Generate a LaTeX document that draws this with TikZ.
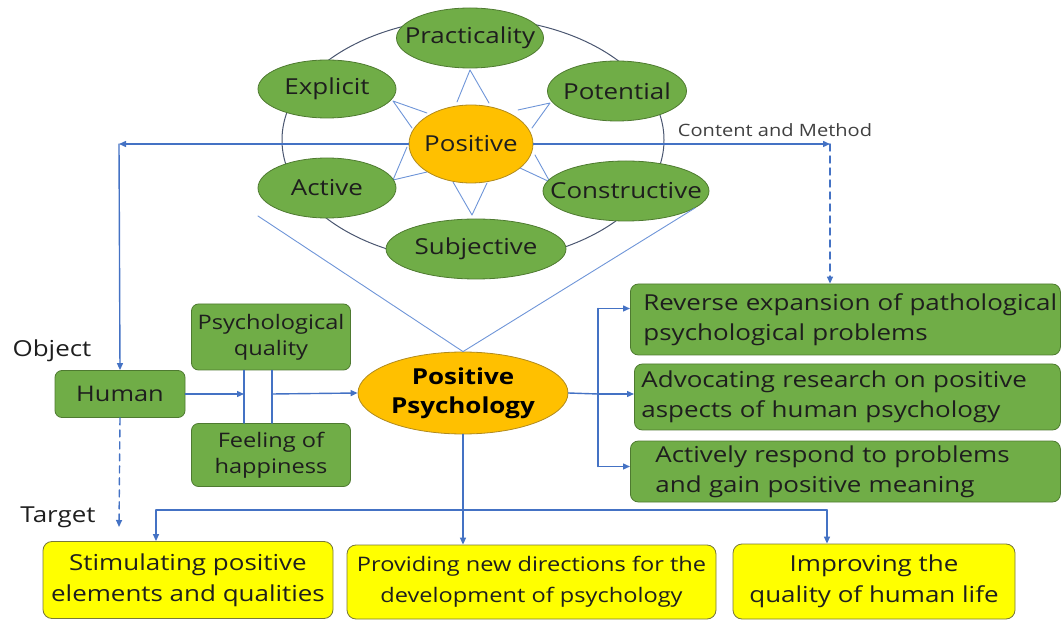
\documentclass[tikz,border=0pt]{standalone}
\usepackage{fontspec}
\setmainfont{Open Sans}[FakeStretch=1.18]
\usetikzlibrary{shapes.geometric,arrows.meta}
\definecolor{gFill}{HTML}{70AD47}
\definecolor{gEdge}{HTML}{4E7A30}
\definecolor{oFill}{HTML}{FFC000}
\definecolor{oEdge}{HTML}{B08A1E}
\definecolor{yFill}{HTML}{FFFF00}
\definecolor{yEdge}{HTML}{77773A}
\definecolor{wire}{HTML}{4472C4}
\definecolor{ray}{HTML}{6E95D8}
\definecolor{rim}{HTML}{4A5670}
\definecolor{ink}{HTML}{1E1E1E}

\tikzset{
  trait/.style={ellipse,fill=gFill,draw=gEdge,line width=0.8pt,inner xsep=-25pt,inner ysep=0pt,
                text=ink,font=\fontsize{22}{22}\selectfont},
  gbox/.style={rectangle,rounded corners=7pt,fill=gFill,draw=gEdge,line width=0.8pt,
               text=ink,align=center,font=\fontsize{20}{26}\selectfont},
  wbox/.style={rectangle,rounded corners=8pt,fill=gFill,draw=gEdge,line width=0.8pt,
               text=ink,align=left,anchor=west,font=\fontsize{22}{30}\selectfont},
  ybox/.style={rectangle,rounded corners=9pt,fill=yFill,draw=yEdge,line width=0.8pt,
               text=ink,align=center,font=\fontsize{22}{31}\selectfont},
  lbl/.style={text=ink,inner sep=0pt,font=\fontsize{22}{22}\selectfont},
  link/.style={draw=wire,line width=1.4pt,-{Triangle[length=7pt,width=6pt]}},
  bar/.style={draw=wire,line width=1.4pt},
  dashlink/.style={link,dash pattern=on 7pt off 5pt},
}

\begin{document}
\begin{tikzpicture}[x=1pt,y=-1pt,line cap=round,line join=round]
  \useasboundingbox (0,0) rectangle (1061,620);

  % ring round the six traits
  \draw[rim,line width=1pt] (473,140) ellipse [x radius=191, y radius=122];

  % star points from the centre
  \begin{scope}[draw=ray,line width=0.9pt]
    \draw (457,102) -- (470,70) -- (489,103);
    \draw (427,113) -- (393,101) -- (412,128);
    \draw (518,110) -- (550,103) -- (532,128);
    \draw (407,147) -- (393,180) -- (427,172);
    \draw (520,168) -- (550,182) -- (535,155);
    \draw (453,182) -- (472,215) -- (487,183);
  \end{scope}

  % traits
  \node[trait,minimum width=147,minimum height=60] (prc) at (470,38)  {Practicality};
  \node[trait,minimum width=138,minimum height=58] (exp) at (327,89)  {Explicit};
  \node[trait,minimum width=139,minimum height=60] (pot) at (617,91)  {Potential};
  \node[trait,minimum width=138,minimum height=60] (act) at (327,188) {Active};
  \node[trait,minimum width=166,minimum height=60] (con) at (626,191) {Constructive};
  \node[trait,minimum width=180,minimum height=60] (sub) at (476,249) {Subjective};
  \node[trait,fill=oFill,draw=oEdge,minimum width=124,minimum height=78] (pos) at (471,144) {Positive};

  % centre and side labels
  \node[ellipse,fill=oFill,draw=oEdge,line width=0.8pt,inner sep=0pt,
        minimum width=210,minimum height=82,align=center,text=black,
        font=\fontsize{22}{29}\selectfont\bfseries] (pp) at (463,393) {Positive\\Psychology};
  \node[lbl] (obj) at (52,351) {Object};
  \node[lbl] (tgt) at (58,517) {Target};
  \node[lbl,font=\fontsize{17}{17}\selectfont,text=ink!85] (cm) at (775,130) {Content and Method};

  \node[gbox,minimum width=130,minimum height=47,font=\fontsize{21.5}{26}\selectfont] (hum) at (120,394) {Human};
  \node[gbox,minimum width=159,minimum height=66] (pq) at (271,337) {Psychological\\quality};
  \node[gbox,minimum width=159,minimum height=63] (fh) at (271,455) {Feeling of\\happiness};

  \node[wbox,minimum height=71,inner xsep=13pt,text width=404] (rv1) at (630,319.5)
    {\mbox{Reverse expansion of pathological}\\psychological problems};
  \node[wbox,minimum height=66,inner xsep=7pt,text width=412] (rv2) at (634,397)
    {Advocating research on positive\\aspects of human psychology};
  \node[wbox,minimum height=61,inner xsep=25pt,text width=380] (rv3) at (630,471.5)
    {Actively respond to problems\\and gain positive meaning};

  \node[ybox,minimum width=290,minimum height=77] (yb1) at (188,580)
    {Stimulating positive\\elements and qualities};
  \node[ybox,minimum width=369,minimum height=74,font=\fontsize{20}{31}\selectfont] (yb2) at (531.5,582)
    {Providing new directions for the\\development of psychology};
  \node[ybox,minimum width=282,minimum height=75] (yb3) at (874,581.5)
    {Improving the\\quality of human life};

  % free ends of the connectors
  \coordinate (cmL) at (119,144);
  \coordinate (cmR) at (830,144);
  \coordinate (aim) at (119,527);
  \coordinate (barL) at (244,394);
  \coordinate (barR) at (272,394);
  \coordinate (brk) at (598,394);
  \coordinate (tL) at (156,510);
  \coordinate (tR) at (827,510);
  \coordinate (vL) at (258,216);
  \coordinate (vR) at (695,208);

  % funnel into the centre
  \draw[ray,line width=0.9pt] (vL) -- (pp.north) -- (vR);

  % content and method
  \draw[link] (pos.west) -- (cmL);
  \draw[link] (cmL) -- (hum.north);
  \draw[link] (pos.east) -- (cmR);
  \draw[dashlink] (cmR) -- (cmR |- rv1.north);

  % object side
  \draw[dashlink] (hum.south) -- (aim);
  \draw[bar] (barL |- pq.south) -- (barL |- fh.north);
  \draw[bar] (barR |- pq.south) -- (barR |- fh.north);
  \draw[link] (hum.east) -- (barL);
  \draw[link] (barR) -- (pp.west);

  % three research aims
  \draw[bar] (pp.east) -- (brk);
  \draw[bar] ([yshift=11pt]brk |- rv1.west) -- ([yshift=5pt]brk |- rv3.west);
  \draw[link] ([yshift=11pt]brk |- rv1.west) -- ([yshift=11pt]rv1.west);
  \draw[link] (brk) -- (brk -| rv2.west);
  \draw[link] ([yshift=5pt]brk |- rv3.west) -- ([yshift=5pt]rv3.west);

  % targets
  \draw[link] (pp.south) -- (pp.south |- yb2.north);
  \draw[bar] (tL) -- (tR);
  \draw[link] (tL) -- (tL |- yb1.north);
  \draw[link] (tR) -- (tR |- yb3.north);

\end{tikzpicture}
\end{document}
